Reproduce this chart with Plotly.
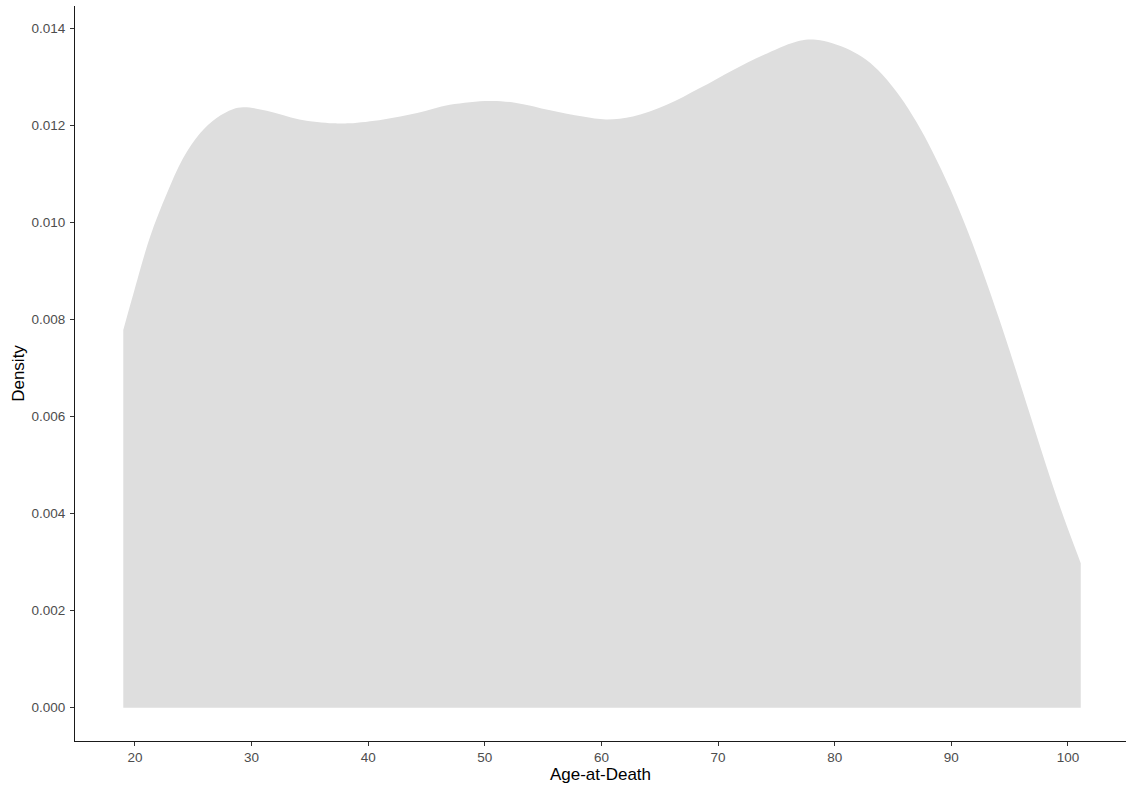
import plotly.graph_objects as go

# Kernel density estimate of age at death (read at selected ages)
ages = [19.0, 19.85, 21.3, 22.7, 24.1, 25.6, 27.0, 28.4, 29.3, 31.3, 34.1, 37.0,
        38.4, 41.3, 44.2, 47.0, 50.4, 52.7, 55.6, 58.4, 60.4, 62.7, 65.6, 68.4,
        71.3, 74.2, 77.0, 78.4, 79.8, 81.3, 82.7, 84.1, 85.6, 87.0, 88.4, 89.9,
        91.3, 92.7, 94.1, 95.3, 96.7, 98.1, 99.6, 101.1]
density = [0.00779, 0.00852, 0.00971, 0.01058, 0.01132, 0.01185, 0.01216, 0.01234,
           0.01238, 0.01231, 0.01213, 0.01205, 0.01205, 0.01213, 0.01226, 0.01243,
           0.01251, 0.01247, 0.01232, 0.01219, 0.01213, 0.01219, 0.01243, 0.01277,
           0.01315, 0.01349, 0.01375, 0.01377, 0.01370, 0.01356, 0.01336, 0.01305,
           0.01260, 0.01208, 0.01146, 0.01070, 0.00989, 0.00899, 0.00802, 0.00714,
           0.00608, 0.00502, 0.00395, 0.00298]

x_ticks = [20, 30, 40, 50, 60, 70, 80, 90, 100]
y_ticks = [0.000, 0.002, 0.004, 0.006, 0.008, 0.010, 0.012, 0.014]

fig = go.Figure()
fig.add_trace(go.Scatter(
    x=ages, y=density,
    mode="lines",
    line=dict(width=0, shape="spline", smoothing=1.0, color="#DEDEDE"),
    fill="tozeroy",
    fillcolor="#DEDEDE",
    hoverinfo="skip",
    showlegend=False,
))

font_family = "Liberation Sans, Arial, sans-serif"

fig.update_layout(
    width=1126, height=787,
    margin=dict(l=75, r=0, t=6, b=46),
    paper_bgcolor="white",
    plot_bgcolor="white",
    font=dict(family=font_family, color="#000000"),
    showlegend=False,
)

fig.update_xaxes(
    range=[14.86, 104.98],
    tickvals=x_ticks,
    ticktext=[str(v) for v in x_ticks],
    showgrid=False, zeroline=False,
    showline=True, linecolor="#1a1a1a", linewidth=1.2,
    ticks="outside", ticklen=4, tickwidth=1.1, tickcolor="#333333",
    tickfont=dict(size=13.5, color="#4D4D4D", family=font_family),
    title=dict(text="Age-at-Death", font=dict(size=17, color="#000000", family=font_family), standoff=3),
)

fig.update_yaxes(
    range=[-0.000687, 0.014468],
    tickvals=y_ticks,
    ticktext=[f"{v:.3f}" for v in y_ticks],
    showgrid=False, zeroline=False,
    showline=True, linecolor="#1a1a1a", linewidth=1.2,
    ticks="outside", ticklen=4, tickwidth=1.1, tickcolor="#333333",
    tickfont=dict(size=13.5, color="#4D4D4D", family=font_family),
    ticklabelstandoff=2,
    title=dict(text="Density", font=dict(size=17, color="#000000", family=font_family), standoff=2),
)

fig.write_html("out.html")
